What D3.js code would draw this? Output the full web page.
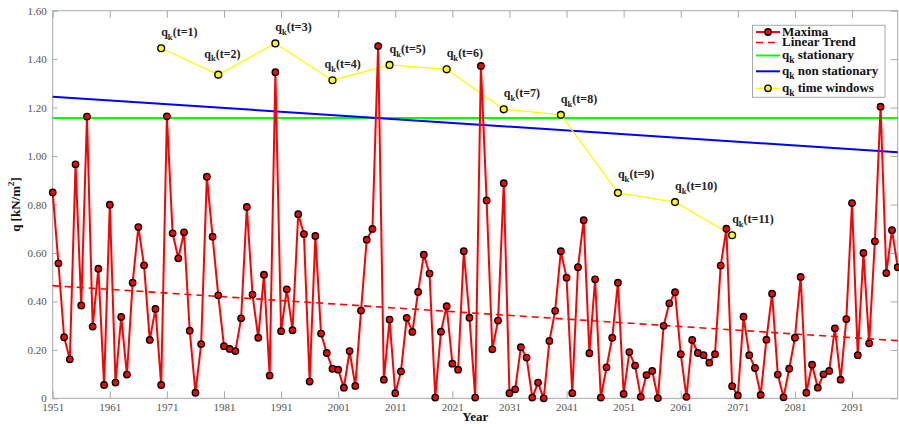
<!DOCTYPE html>
<html>
<head>
<meta charset="utf-8">
<script src="https://cdn.jsdelivr.net/npm/d3@7"></script>
<style>
  html, body { margin: 0; padding: 0; background: #fff; }
  svg { display: block; }
  text { font-family: "Liberation Serif", "DejaVu Serif", serif; }
</style>
</head>
<body>
<svg id="chart" width="899" height="427"></svg>
<script>
// Annual maxima of q [kN/m²], one value per year from 1951 to 2099
const firstYear = 1951;
const maxima = [
  0.850, 0.557, 0.252, 0.161, 0.966, 0.383, 1.163, 0.296, 0.535, 0.055,
  0.799, 0.065, 0.336, 0.098, 0.477, 0.707, 0.549, 0.241, 0.369, 0.055,
  1.164, 0.681, 0.578, 0.685, 0.279, 0.023, 0.224, 0.915, 0.667, 0.425,
  0.215, 0.204, 0.195, 0.330, 0.790, 0.428, 0.250, 0.510, 0.094, 1.346,
  0.277, 0.450, 0.281, 0.760, 0.678, 0.069, 0.670, 0.267, 0.187, 0.122,
  0.118, 0.044, 0.195, 0.051, 0.362, 0.655, 0.699, 1.454, 0.077, 0.325,
  0.021, 0.111, 0.332, 0.274, 0.439, 0.593, 0.515, 0.003, 0.275, 0.380,
  0.143, 0.118, 0.607, 0.333, 0.003, 1.372, 0.817, 0.202, 0.321, 0.888,
  0.021, 0.037, 0.211, 0.168, 0.003, 0.065, 0.000, 0.237, 0.361, 0.607,
  0.498, 0.021, 0.541, 0.735, 0.186, 0.491, 0.003, 0.128, 0.250, 0.477,
  0.018, 0.191, 0.135, 0.006, 0.096, 0.113, 0.001, 0.299, 0.392, 0.438,
  0.182, 0.006, 0.241, 0.187, 0.178, 0.147, 0.182, 0.548, 0.700, 0.050,
  0.012, 0.337, 0.178, 0.125, 0.014, 0.242, 0.432, 0.098, 0.004, 0.122,
  0.250, 0.501, 0.023, 0.139, 0.044, 0.099, 0.113, 0.289, 0.077, 0.327,
  0.806, 0.178, 0.600, 0.227, 0.648, 1.204, 0.517, 0.694, 0.541
];
const years = maxima.map((_, i) => firstYear + i);

// Linear trend of the maxima (end points)
const trendYears = [1951, 2099];
const trendValues = [0.465, 0.238];

// Characteristic value q_k: stationary and non-stationary estimates
const qkStationary = 1.157;
const qkNonStatYears = [1951, 2099];
const qkNonStatValues = [1.245, 1.016];

// q_k estimated on moving time windows
const windowYears = [1970, 1980, 1990, 2000, 2010, 2020, 2030, 2040, 2050, 2060, 2070];
const windowValues = [1.445, 1.336, 1.465, 1.313, 1.376, 1.358, 1.193, 1.170, 0.848, 0.810, 0.673];
const windowLabels = ["1", "2", "3", "4", "5", "6", "7", "8", "9", "10", "11"];

// Axis ticks
const xTickYears = [1951, 1961, 1971, 1981, 1991, 2001, 2011, 2021, 2031, 2041, 2051, 2061, 2071, 2081, 2091];
const yTickValues = [0, 0.2, 0.4, 0.6, 0.8, 1.0, 1.2, 1.4, 1.6];
const yTickLabels = ["0", "0.20", "0.40", "0.60", "0.80", "1.00", "1.20", "1.40", "1.60"];

// Legend entries
const legendLabels = [
  { main: "Maxima", sub: null, rest: null },
  { main: "Linear Trend", sub: null, rest: null },
  { main: "q", sub: "k", rest: " stationary" },
  { main: "q", sub: "k", rest: " non stationary" },
  { main: "q", sub: "k", rest: " time windows" }
];

// ---- layout ----
const svg = d3.select("#chart");
const m = { left: 52.7, right: 897.7, top: 10.7, bottom: 398.3 };

const x = d3.scaleLinear().domain([1951, 2099]).range([m.left, m.right]);
const y = d3.scaleLinear().domain([0, 1.6]).range([m.bottom, m.top]);

const axisColor = "#a8a8a8";
const labelColor = "#555";
const tickLen = 7;

// axes: ticks pointing inwards, mirrored on the top and right edges
const gx = svg.append("g").attr("transform", `translate(0,${m.bottom})`)
  .call(d3.axisBottom(x).tickValues(xTickYears).tickFormat(d3.format("d"))
    .tickSizeInner(-tickLen).tickSizeOuter(0).tickPadding(4.5));
const gxTop = svg.append("g").attr("transform", `translate(0,${m.top})`)
  .call(d3.axisTop(x).tickValues(xTickYears).tickFormat("")
    .tickSizeInner(-tickLen).tickSizeOuter(0));
const gy = svg.append("g").attr("transform", `translate(${m.left},0)`)
  .call(d3.axisLeft(y).tickValues(yTickValues)
    .tickFormat((d, i) => yTickLabels[i])
    .tickSizeInner(-5).tickSizeOuter(0).tickPadding(6));
const gyRight = svg.append("g").attr("transform", `translate(${m.right},0)`)
  .call(d3.axisRight(y).tickValues(yTickValues).tickFormat("")
    .tickSizeInner(-tickLen).tickSizeOuter(0));

[gx, gxTop, gy, gyRight].forEach(g => {
  g.select(".domain").remove();
  g.selectAll(".tick line").attr("stroke", axisColor).attr("stroke-width", 1);
  g.selectAll(".tick text").attr("fill", labelColor)
    .style("font-family", "'Liberation Serif', serif").style("font-size", "11px");
});

// plot frame
svg.append("rect")
  .attr("x", m.left).attr("y", m.top)
  .attr("width", m.right - m.left).attr("height", m.bottom - m.top)
  .attr("fill", "none").attr("stroke", axisColor).attr("stroke-width", 1);

const line = d3.line().x(d => x(d[0])).y(d => y(d[1]));

// trend and q_k lines
svg.append("path")
  .attr("d", line(trendYears.map((t, i) => [t, trendValues[i]])))
  .attr("fill", "none").attr("stroke", "#ff0000").attr("stroke-width", 1.6)
  .attr("stroke-dasharray", "7,5");

svg.append("path")
  .attr("d", line([[1951, qkStationary], [2099, qkStationary]]))
  .attr("fill", "none").attr("stroke", "#00ff00").attr("stroke-width", 2);

svg.append("path")
  .attr("d", line(qkNonStatYears.map((t, i) => [t, qkNonStatValues[i]])))
  .attr("fill", "none").attr("stroke", "#0000ff").attr("stroke-width", 2);

// time-window q_k
const windowPts = windowYears.map((t, i) => [t, windowValues[i]]);
svg.append("path")
  .attr("d", line(windowPts))
  .attr("fill", "none").attr("stroke", "#ffff00").attr("stroke-width", 1.3);

// maxima series
const maxPts = years.map((t, i) => [t, maxima[i]]);
svg.append("path")
  .attr("d", line(maxPts))
  .attr("fill", "none").attr("stroke", "#ff0000").attr("stroke-width", 2)
  .attr("stroke-linejoin", "round");

svg.append("g").selectAll("circle").data(maxPts).join("circle")
  .attr("cx", d => x(d[0])).attr("cy", d => y(d[1])).attr("r", 3.2)
  .attr("fill", "#ff0000").attr("stroke", "#000").attr("stroke-width", 1.4);

svg.append("g").selectAll("circle").data(windowPts).join("circle")
  .attr("cx", d => x(d[0])).attr("cy", d => y(d[1])).attr("r", 3.4)
  .attr("fill", "#ffff00").attr("stroke", "#000").attr("stroke-width", 1.4);

// q_k(t=…) annotations, nudged where they would collide with the curve
const labelNudge = { 1: [-14, -5], 3: [-8, 0], 8: [0, -3] };
function qkText(sel, main, sub, rest, size) {
  sel.append("tspan").text(main);
  if (sub) {
    sel.append("tspan").attr("font-size", size * 0.72).attr("dy", size * 0.32).text(sub);
    sel.append("tspan").attr("dy", -size * 0.32).text(rest);
  }
}
windowPts.forEach((p, i) => {
  const nd = labelNudge[i] || [0, 0];
  const t = svg.append("text")
    .attr("x", x(p[0]) + nd[0]).attr("y", y(p[1]) - 12 + nd[1])
    .attr("font-size", 12).attr("font-weight", "bold").attr("fill", "#222");
  qkText(t, "q", "k", `(t=${windowLabels[i]})`, 12);
});

// axis titles
svg.append("text")
  .attr("x", (m.left + m.right) / 2).attr("y", 421)
  .attr("text-anchor", "middle").attr("font-size", 13).attr("font-weight", "bold")
  .attr("fill", "#111").text("Year");

const yt = svg.append("text")
  .attr("transform", `translate(20,${(m.top + m.bottom) / 2}) rotate(-90)`)
  .attr("text-anchor", "middle").attr("font-size", 13).attr("font-weight", "bold")
  .attr("fill", "#111");
yt.append("tspan").text("q [kN/m");
yt.append("tspan").attr("font-size", 9).attr("dy", -6).text("2");
yt.append("tspan").attr("dy", 6).text("]");

// legend
const lg = svg.append("g");
lg.append("rect").attr("x", 752.5).attr("y", 25.3).attr("width", 132.5).attr("height", 72)
  .attr("fill", "#fff").attr("stroke", axisColor).attr("stroke-width", 1);
const rowY = [32, 42.5, 55.5, 71.3, 88.3];
const styles = [
  { color: "#ff0000", dash: null, marker: "#ff0000", w: 2 },
  { color: "#ff0000", dash: "7,5", marker: null, w: 1.6 },
  { color: "#00ff00", dash: null, marker: null, w: 2 },
  { color: "#0000ff", dash: null, marker: null, w: 2 },
  { color: "#ffff00", dash: null, marker: "#ffff00", w: 1.3 }
];
legendLabels.forEach((lab, i) => {
  const s = styles[i], yy = rowY[i];
  lg.append("line").attr("x1", 756).attr("x2", 780).attr("y1", yy).attr("y2", yy)
    .attr("stroke", s.color).attr("stroke-width", s.w)
    .attr("stroke-dasharray", s.dash);
  if (s.marker) {
    lg.append("circle").attr("cx", 768).attr("cy", yy).attr("r", 3.2)
      .attr("fill", s.marker).attr("stroke", "#000").attr("stroke-width", 1.4);
  }
  const t = lg.append("text").attr("x", 782).attr("y", yy + 3.5)
    .attr("font-size", 13).attr("font-weight", "bold").attr("fill", "#111");
  if (lab.sub) qkText(t, lab.main, lab.sub, lab.rest, 13);
  else t.text(lab.main);
});
</script>
</body>
</html>
